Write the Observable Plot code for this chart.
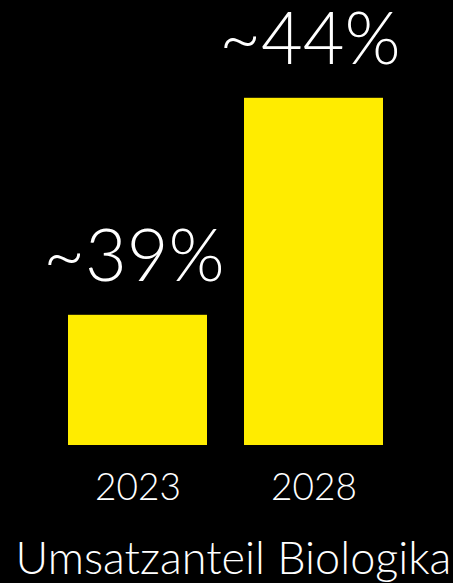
<!DOCTYPE html>
<html>
<head>
<meta charset="utf-8">
<script src="https://cdn.jsdelivr.net/npm/d3@7"></script>
<script src="https://cdn.jsdelivr.net/npm/@observablehq/plot@0.6"></script>
<style>
  html, body { margin: 0; padding: 0; background: #000; }
  #chart { width: 453px; height: 583px; position: relative; overflow: hidden; }
  .caption { position: absolute; left: 0; top: 529px; width: 453px; text-align: center;
    font-family: Lato, "Open Sans", sans-serif; font-weight: 300; font-size: 45px; color: #fff;
    line-height: 56px; padding-left: 14px; box-sizing: border-box; white-space: nowrap; }
</style>
</head>
<body>
<div id="chart"></div>
<script>
const years = ["2023", "2028"];
const shares = [39, 44];
const labels = ["~39%", "~44%"];
const caption = "Umsatzanteil Biologika";

const data = years.map((y, i) => ({year: y, value: shares[i], label: labels[i]}));

const plot = Plot.plot({
  width: 453,
  height: 520,
  marginLeft: 31,
  marginRight: 33,
  marginTop: 11,
  marginBottom: 75,
  style: {background: "#000", color: "#fff", fontFamily: "Lato, 'Open Sans', sans-serif", fontWeight: 300, overflow: "visible"},
  x: {domain: years, padding: 0.21, label: null},
  y: {domain: [36, 46], axis: null},
  marks: [
    Plot.barY(data, {x: "year", y1: 36, y2: "value", fill: "#ffec00"}),
    Plot.text(data, {x: "year", y: "value", text: "label", dy: -34, dx: -4, lineAnchor: "bottom",
      fill: "#fff", fontSize: 72, fontWeight: 300}),
    Plot.axisX({tickSize: 0, tickPadding: 28, fontSize: 37, fontWeight: 300, label: null, color: "#fff"})
  ]
});
const chart = document.getElementById("chart");
chart.appendChild(plot);
const cap = document.createElement("div");
cap.className = "caption";
cap.textContent = caption;
chart.appendChild(cap);
</script>
</body>
</html>
